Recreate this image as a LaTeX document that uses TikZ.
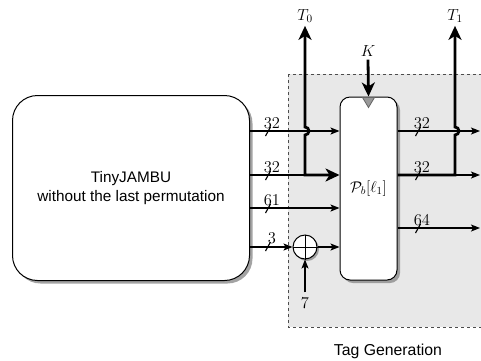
\RequirePackage{fix-cm}
\documentclass[tikz,border=0pt]{standalone}
\usepackage{fontspec}
\newfontfamily\blockfont{Liberation Sans}
\usetikzlibrary{arrows.meta,shadows,calc}

\tikzset{
    block/.style={draw, line width=1pt, fill=white, rounded corners=#1,
        drop shadow={shadow xshift=3pt, shadow yshift=-3pt, fill=black!45, opacity=0.8}},
    wire/.style={line width=1.1pt},
    arr/.style={wire, -{Stealth[length=9pt,width=7pt,inset=2pt]}},
    thickwire/.style={line width=2.8pt},
    bigtip/.tip={Stealth[length=14pt,width=13pt,inset=4pt]},
    num/.style={font=\fontsize{16.5}{18}\selectfont, inner sep=0pt},
    sym/.style={font=\fontsize{16}{18}\selectfont, inner sep=3pt},
    sans/.style={font=\blockfont\fontsize{15.3}{19}\selectfont},
}

\newcommand{\buswidth}[3]{%
    \draw[wire] ($(#1)+(-2.5,5)$) -- ($(#1)+(2.5,-4)$);
    \node[num, anchor=south] (#2) at ($(#1)+(4,-2)$) {$#3$};
}

\begin{document}
\begin{tikzpicture}[x=1pt, y=-1pt]
    \useasboundingbox (0,0) rectangle (481,360);

    \draw[draw=black!70, fill=black!9, line width=1pt, dash pattern=on 3pt off 3pt]
        (288,74) rectangle (486,327);

    \node[block=25pt, sans, minimum width=237pt, minimum height=185pt, align=center]
        (jambu) at (131,188) {TinyJAMBU\\without the last permutation};
    \node[block=10pt, minimum width=57pt, minimum height=183pt,
        font=\fontsize{15.5}{18}\selectfont] (perm) at (368.5,188.5) {$\mathcal{P}_b[\ell_1]$};
    \draw[fill=black!40, draw=black!60, line width=0.8pt]
        ($(perm.north)+(-6,1)$) -- ($(perm.north)+(6,1)$) -- ($(perm.north)+(0,11)$) -- cycle;
    \node[circle, draw, line width=1pt, fill=white, minimum size=24pt, inner sep=0pt,
        drop shadow={shadow xshift=2pt, shadow yshift=-2pt, fill=black!45, opacity=0.8}]
        (xor) at (305,247) {};
    \draw[line width=1pt] (xor.north) -- (xor.south) (xor.west) -- (xor.east);

    \node[sym] (T0) at (305,16) {$T_0$};
    \node[sym] (T1) at (455,16) {$T_1$};
    \node[sym] (K) at (368,51) {$K$};
    \node[font=\fontsize{16.5}{18}\selectfont, inner sep=5pt] (seven) at (305,303) {$7$};
    \node[font=\blockfont\fontsize{15.8}{19}\selectfont] (tag) at (388,351) {Tag Generation};

    \coordinate (h0) at (305,131);
    \coordinate (j0) at (305,175);
    \coordinate (h1) at (455,131);
    \coordinate (j1) at (455,175);
    \coordinate (o1) at (480,131);
    \coordinate (o2) at (480,175);
    \coordinate (o3) at (480,228);
    \coordinate (r3) at (0,208);

    \draw[arr] (jambu.east |- h0) -- (perm.west |- h0);
    \draw[wire] (jambu.east |- j0) -- (j0);
    \draw[thickwire, bigtip-bigtip] (T0.south) -- ($(h0)+(0,-4)$)
        arc[start angle=-90, end angle=90, radius=4] -- (j0) -- (perm.west |- j0);
    \draw[arr] (jambu.east |- r3) -- (perm.west |- r3);
    \draw[arr] (jambu.east |- xor) -- (xor.west);
    \draw[arr] (xor.east) -- (perm.west |- xor);
    \draw[arr] (seven) -- (xor.south);
    \draw[thickwire, -bigtip] (K.south) -- (perm.north);

    \draw[arr] (perm.east |- h1) -- (o1);
    \draw[thickwire, bigtip-] (T1.south) -- ($(h1)+(0,-4)$)
        arc[start angle=-90, end angle=90, radius=4] -- (j1) -- (perm.east |- j1);
    \draw[arr] (j1) -- (o2);
    \draw[arr] (perm.east |- o3) -- (o3);

    \buswidth{268,131}{w-a}{32}
    \buswidth{268,175}{w-b}{32}
    \buswidth{268,208}{w-c}{61}
    \buswidth{268,246}{w-d}{3}
    \buswidth{418,131}{w-e}{32}
    \buswidth{418,175}{w-f}{32}
    \buswidth{418,228}{w-g}{64}
\end{tikzpicture}
\end{document}
